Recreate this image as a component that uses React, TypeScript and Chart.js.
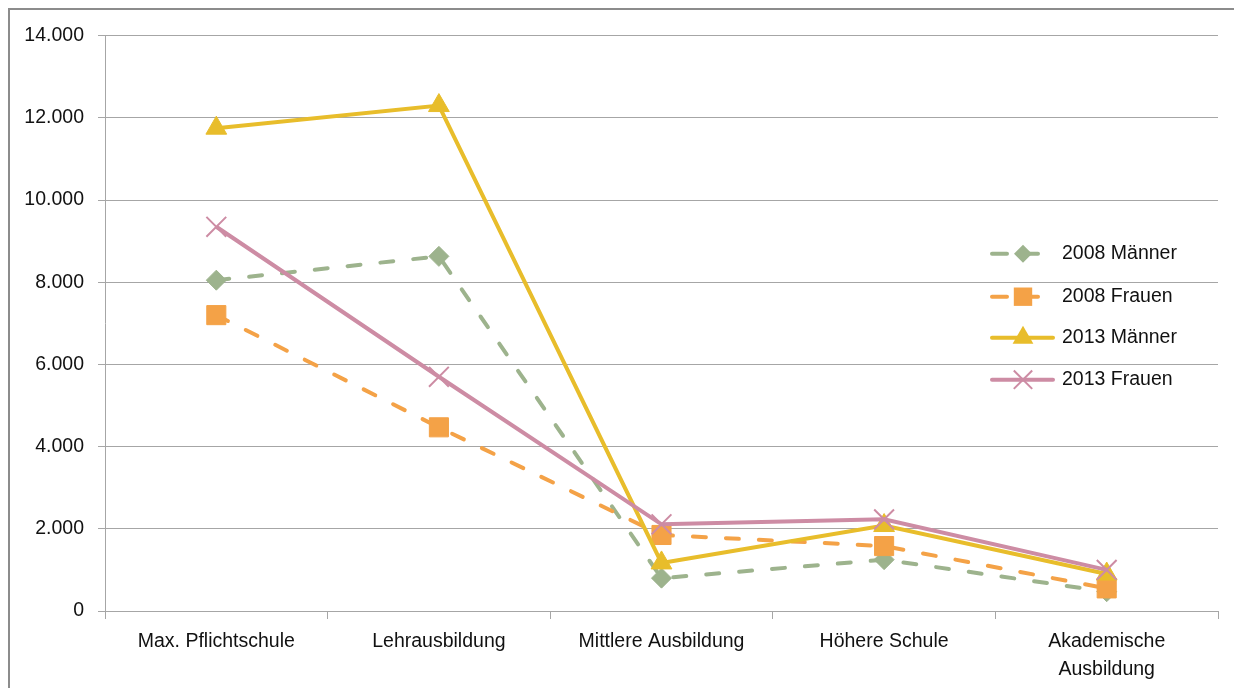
import React, { useEffect, useRef } from "react";
import { Chart, registerables } from "chart.js";

Chart.register(...registerables);

const categories: (string | string[])[] = [
  "Max. Pflichtschule",
  "Lehrausbildung",
  "Mittlere Ausbildung",
  "Höhere Schule",
  ["Akademische", "Ausbildung"],
];
const maenner2008 = [8050, 8630, 800, 1250, 470];
const frauen2008 = [7200, 4470, 1850, 1580, 550];
const maenner2013 = [11750, 12300, 1170, 2080, 900];
const frauen2013 = [9350, 5700, 2110, 2230, 1000];
const seriesLabels = ["2008 Männer", "2008 Frauen", "2013 Männer", "2013 Frauen"];

const yMin = 0;
const yMax = 14000;
const yStep = 2000;

const GREEN = "#9DB38D";
const ORANGE = "#F4A247";
const YELLOW = "#E8BD2B";
const PINK = "#CD8CA4";
const GRID = "#A6A6A6";
const FONT = '"Liberation Sans", Arial, sans-serif';

function fmt(v: number): string {
  const s = Math.round(v).toString();
  return s.replace(/\B(?=(\d{3})+(?!\d))/g, ".");
}

function drawMarker(ctx: CanvasRenderingContext2D, style: string, x: number, y: number, r: number, color: string) {
  ctx.save();
  ctx.fillStyle = color;
  ctx.strokeStyle = color;
  ctx.beginPath();
  if (style === "rectRot") {
    ctx.moveTo(x, y - r);
    ctx.lineTo(x + r, y);
    ctx.lineTo(x, y + r);
    ctx.lineTo(x - r, y);
    ctx.closePath();
    ctx.fill();
  } else if (style === "rect") {
    const s = r * Math.SQRT1_2;
    ctx.rect(x - s, y - s, 2 * s, 2 * s);
    ctx.fill();
  } else if (style === "triangle") {
    ctx.moveTo(x, y - r);
    ctx.lineTo(x + r * Math.sin(Math.PI / 3), y + r / 2);
    ctx.lineTo(x - r * Math.sin(Math.PI / 3), y + r / 2);
    ctx.closePath();
    ctx.fill();
  } else if (style === "crossRot") {
    const o = r * Math.SQRT1_2;
    ctx.lineWidth = 2;
    ctx.moveTo(x - o, y - o);
    ctx.lineTo(x + o, y + o);
    ctx.moveTo(x - o, y + o);
    ctx.lineTo(x + o, y - o);
    ctx.stroke();
  }
  ctx.restore();
}

const customLegend = {
  id: "customLegend",
  afterDraw(chart: any) {
    const ctx: CanvasRenderingContext2D = chart.ctx;
    const area = chart.chartArea;
    const x0 = area.right - 228;
    const x1 = x0 + 65;
    const mx = x0 + 33;
    const tx = x0 + 72;
    const ys = [area.top + 218, area.top + 261, area.top + 302, area.top + 344];
    chart.data.datasets.forEach((ds: any, i: number) => {
      const y = ys[i];
      ctx.save();
      ctx.strokeStyle = ds.borderColor;
      ctx.lineWidth = ds.borderWidth;
      ctx.lineCap = "round";
      ctx.beginPath();
      if (ds.borderDash && ds.borderDash.length) {
        ctx.moveTo(x0 + 2, y);
        ctx.lineTo(x0 + 17, y);
        ctx.moveTo(x0 + 29, y);
        ctx.lineTo(x0 + 48, y);
      } else {
        ctx.moveTo(x0 + 2, y);
        ctx.lineTo(x1 - 2, y);
      }
      ctx.stroke();
      ctx.restore();
      const r = ds.pointStyle === "rectRot" ? 9 : ds.pointStyle === "rect" ? 13 : ds.pointStyle === "crossRot" ? 13 : 12;
      drawMarker(ctx, ds.pointStyle, mx, y, r, ds.pointBackgroundColor);
      ctx.save();
      ctx.fillStyle = "#111";
      ctx.font = `19.5px ${FONT}`;
      ctx.textBaseline = "middle";
      ctx.textAlign = "left";
      ctx.fillText(ds.label, tx, y);
      ctx.restore();
    });
  },
};

export default function App() {
  const canvasRef = useRef<HTMLCanvasElement | null>(null);

  useEffect(() => {
    if (!canvasRef.current) return;
    const chart = new Chart(canvasRef.current, {
      type: "line",
      data: {
        labels: categories as any,
        datasets: [
          {
            label: seriesLabels[0],
            data: maenner2008,
            borderColor: GREEN,
            backgroundColor: GREEN,
            borderWidth: 4,
            borderDash: [13, 20],
            borderCapStyle: "round",
            pointStyle: "rectRot",
            pointRadius: 10,
            pointBackgroundColor: GREEN,
            pointBorderColor: GREEN,
            pointBorderWidth: 1,
            tension: 0,
            order: 4,
          } as any,
          {
            label: seriesLabels[1],
            data: frauen2008,
            borderColor: ORANGE,
            backgroundColor: ORANGE,
            borderWidth: 4,
            borderDash: [13, 20],
            borderCapStyle: "round",
            pointStyle: "rect",
            pointRadius: 13.5,
            pointBackgroundColor: ORANGE,
            pointBorderColor: ORANGE,
            pointBorderWidth: 1,
            tension: 0,
            order: 3,
          } as any,
          {
            label: seriesLabels[2],
            data: maenner2013,
            borderColor: YELLOW,
            backgroundColor: YELLOW,
            borderWidth: 4,
            pointStyle: "triangle",
            pointRadius: 12,
            pointBackgroundColor: YELLOW,
            pointBorderColor: YELLOW,
            pointBorderWidth: 1,
            tension: 0,
            order: 2,
          } as any,
          {
            label: seriesLabels[3],
            data: frauen2013,
            borderColor: PINK,
            backgroundColor: PINK,
            borderWidth: 4,
            pointStyle: "crossRot",
            pointRadius: 14,
            pointBackgroundColor: PINK,
            pointBorderColor: PINK,
            pointBorderWidth: 2,
            tension: 0,
            order: 1,
          } as any,
        ],
      },
      options: {
        animation: false,
        responsive: true,
        maintainAspectRatio: false,
        layout: { padding: { top: 25, right: 10, left: 0, bottom: 0 } },
        plugins: {
          legend: { display: false },
          tooltip: { enabled: false },
        },
        scales: {
          x: {
            type: "category",
            offset: true,
            grid: {
              display: true,
              offset: true,
              drawOnChartArea: false,
              drawTicks: true,
              tickLength: 8,
              color: GRID,
            },
            border: { display: true, color: GRID },
            ticks: {
              color: "#111",
              font: { family: FONT, size: 19.5, lineHeight: 1.42 },
              padding: 9,
              maxRotation: 0,
              autoSkip: false,
            },
            afterFit: (s: any) => {
              s.height = 77;
            },
          },
          y: {
            min: yMin,
            max: yMax,
            grid: {
              color: GRID,
              drawTicks: true,
              tickLength: 7,
            },
            border: { display: true, color: GRID },
            ticks: {
              stepSize: yStep,
              color: "#111",
              font: { family: FONT, size: 19.5 },
              padding: 14,
              callback: (v: any) => fmt(Number(v)),
            },
            afterFit: (s: any) => {
              s.width = 95;
            },
          },
        },
      },
      plugins: [customLegend],
    });
    return () => chart.destroy();
  }, []);

  return (
    <div
      style={{
        position: "fixed",
        left: 8,
        top: 8,
        width: 1226,
        height: 680,
        borderTop: "2px solid #8c8c8c",
        borderLeft: "2px solid #8c8c8c",
        boxSizing: "border-box",
        background: "#fff",
      }}
    >
      <div style={{ position: "absolute", left: 0, top: 0, width: 1224, height: 678 }}>
        <canvas ref={canvasRef} />
      </div>
    </div>
  );
}
